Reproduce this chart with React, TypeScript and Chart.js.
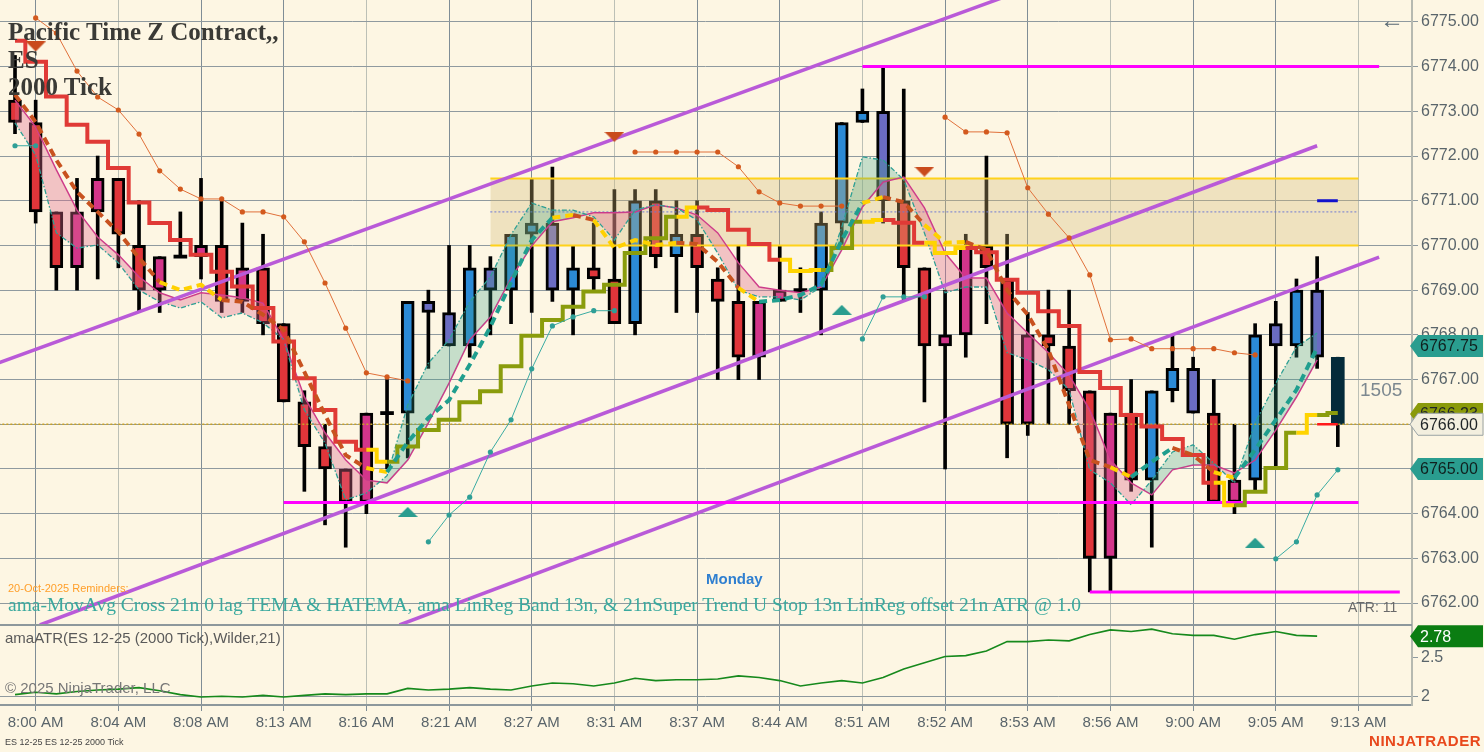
import { useEffect, useRef } from 'react';
import Chart from 'chart.js/auto';

// ---- axis / ticks ----
const timeLabels = ['8:00 AM', '8:04 AM', '8:08 AM', '8:13 AM', '8:16 AM', '8:21 AM', '8:27 AM', '8:31 AM', '8:37 AM', '8:44 AM', '8:51 AM', '8:52 AM', '8:53 AM', '8:56 AM', '9:00 AM', '9:05 AM', '9:13 AM'];
const timeTickBars = [1, 5, 9, 13, 17, 21, 25, 29, 33, 37, 41, 45, 49, 53, 57, 61, 65];
const priceTicks = [6762, 6763, 6764, 6765, 6766, 6767, 6768, 6769, 6770, 6771, 6772, 6773, 6774, 6775];
const atrTicks = [2, 2.5];

// ---- 2000 tick candles ----
const opens = [6773.25, 6772.75, 6770.75, 6770.75, 6771.5, 6771.5, 6770.0, 6769.75, 6769.75, 6770.0, 6770.0, 6769.5, 6769.5, 6768.25, 6766.5, 6765.5, 6765.0, 6766.25, 6766.25, 6766.25, 6768.5, 6767.75, 6767.75, 6769.0, 6769.0, 6770.25, 6769.0, 6769.0, 6769.5, 6769.25, 6768.25, 6771.0, 6769.75, 6770.25, 6769.25, 6768.75, 6768.75, 6769.0, 6769.0, 6769.0, 6770.5, 6772.75, 6771.0, 6771.0, 6769.5, 6768.0, 6770.0, 6770.0, 6769.25, 6768.0, 6768.0, 6767.75, 6766.75, 6766.25, 6766.25, 6764.75, 6766.75, 6766.25, 6766.25, 6764.75, 6764.75, 6767.75, 6767.75, 6767.5, 6767.5];
const highs = [6774.25, 6773.25, 6770.75, 6771.5, 6772.0, 6771.5, 6771.0, 6769.75, 6770.75, 6771.5, 6771.0, 6770.5, 6770.25, 6768.25, 6766.75, 6766.0, 6765.0, 6766.25, 6767.0, 6768.75, 6769.0, 6770.0, 6770.0, 6769.75, 6770.25, 6771.5, 6771.75, 6770.0, 6770.5, 6771.25, 6771.25, 6771.25, 6771.0, 6771.0, 6769.5, 6770.0, 6768.75, 6770.0, 6769.5, 6770.75, 6772.75, 6773.5, 6774.0, 6773.5, 6769.5, 6769.0, 6770.25, 6772.0, 6770.25, 6768.5, 6769.0, 6769.0, 6766.75, 6766.25, 6767.0, 6766.75, 6768.0, 6767.5, 6767.0, 6766.0, 6768.25, 6768.75, 6769.25, 6769.75, 6767.5];
const lows = [6772.5, 6770.5, 6769.0, 6769.0, 6769.25, 6769.5, 6768.5, 6768.5, 6769.75, 6769.25, 6768.5, 6768.5, 6768.0, 6766.5, 6764.5, 6763.75, 6763.25, 6764.0, 6765.0, 6765.25, 6767.25, 6767.75, 6767.5, 6768.0, 6768.25, 6768.5, 6768.75, 6768.0, 6769.0, 6768.25, 6768.0, 6769.5, 6768.5, 6768.5, 6767.0, 6767.0, 6767.0, 6768.75, 6768.5, 6768.0, 6770.0, 6772.75, 6770.5, 6768.75, 6766.5, 6765.0, 6767.5, 6768.25, 6765.25, 6765.75, 6766.0, 6766.0, 6762.25, 6762.25, 6764.5, 6763.25, 6766.5, 6766.25, 6764.25, 6764.0, 6764.5, 6765.0, 6767.5, 6767.25, 6765.5];
const closes = [6772.75, 6770.75, 6769.5, 6769.5, 6770.75, 6770.25, 6769.0, 6769.0, 6769.75, 6769.75, 6768.75, 6768.75, 6768.25, 6766.5, 6765.5, 6765.0, 6764.25, 6764.25, 6766.25, 6768.75, 6768.75, 6768.5, 6769.5, 6769.5, 6770.25, 6770.5, 6770.5, 6769.5, 6769.25, 6768.25, 6771.0, 6769.75, 6770.25, 6769.5, 6768.75, 6767.5, 6767.5, 6768.75, 6769.0, 6770.5, 6772.75, 6773.0, 6773.0, 6769.5, 6767.75, 6767.75, 6768.0, 6769.5, 6766.0, 6766.0, 6767.75, 6766.75, 6763.0, 6763.0, 6764.75, 6766.75, 6767.25, 6767.25, 6764.25, 6764.25, 6768.0, 6768.25, 6769.0, 6769.0, 6766.0];
const barPaint = ['dn', 'dn', 'dn', 'dn2', 'dn2', 'dn', 'dn', 'dn2', 'doji', 'dn2', 'dn', 'dn2', 'dn', 'dn', 'dn', 'dn', 'dn', 'dn2', 'doji', 'up', 'up2', 'up2', 'up', 'up2', 'up', 'up', 'up2', 'up', 'dn', 'dn', 'up', 'dn', 'up', 'dn', 'dn', 'dn', 'dn2', 'dn2', 'doji', 'up', 'up', 'up', 'up2', 'dn', 'dn', 'dn2', 'dn2', 'dn', 'dn', 'dn2', 'dn', 'dn', 'dn', 'dn2', 'dn', 'up', 'up', 'up2', 'dn', 'dn2', 'up', 'up2', 'up', 'up2', 'live'];

// ---- Super Trend U stop ----
const superTrend = [6774.58, 6774.11, 6773.33, 6772.70, 6772.32, 6771.73, 6770.96, 6770.50, 6770.12, 6769.79, 6769.41, 6769.08, 6768.60, 6767.85, 6767.03, 6766.32, 6765.61, 6765.43, 6765.16, 6765.50, 6765.87, 6766.10, 6766.49, 6766.74, 6767.30, 6767.98, 6768.33, 6768.63, 6768.97, 6769.12, 6769.83, 6770.16, 6770.64, 6770.85, 6770.79, 6770.35, 6770.03, 6769.68, 6769.43, 6769.45, 6769.94, 6770.53, 6770.57, 6770.51, 6770.06, 6769.83, 6769.94, 6769.85, 6769.23, 6768.94, 6768.53, 6768.20, 6767.17, 6766.81, 6766.21, 6765.95, 6765.67, 6765.31, 6764.69, 6764.19, 6764.49, 6765.02, 6765.81, 6766.21, 6766.25];
const superTrendState = ['dn', 'dn', 'dn', 'dn', 'dn', 'dn', 'dn', 'dn', 'dn', 'dn', 'dn', 'dn', 'dn', 'dn', 'dn', 'dn', 'dn', 'dn', 'flat', 'up', 'up', 'up', 'up', 'up', 'up', 'up', 'up', 'up', 'up', 'up', 'up', 'up', 'up', 'flat', 'dn', 'dn', 'dn', 'dn', 'flat', 'flat', 'up', 'up', 'flat', 'dn', 'dn', 'flat', 'flat', 'dn', 'dn', 'dn', 'dn', 'dn', 'dn', 'dn', 'dn', 'dn', 'dn', 'dn', 'dn', 'flat', 'up', 'up', 'up', 'flat', 'up'];

// ---- 0 lag TEMA (dashed) ----
const tema = [6773.37, 6772.76, 6771.91, 6771.20, 6770.75, 6770.30, 6769.72, 6769.18, 6769.00, 6769.12, 6768.78, 6768.74, 6768.45, 6768.11, 6767.17, 6766.21, 6765.31, 6765.02, 6764.93, 6765.60, 6766.14, 6766.54, 6767.33, 6768.18, 6769.18, 6770.12, 6770.62, 6770.68, 6770.57, 6769.94, 6770.12, 6770.01, 6770.06, 6770.03, 6769.63, 6769.05, 6768.74, 6768.78, 6768.89, 6769.12, 6770.12, 6770.95, 6771.08, 6770.97, 6770.46, 6770.06, 6770.08, 6769.90, 6769.00, 6768.45, 6767.66, 6766.43, 6765.20, 6765.04, 6764.82, 6765.16, 6765.47, 6765.31, 6764.93, 6764.80, 6765.43, 6766.10, 6766.77, 6767.71, null];
const temaTrend = ['d', 'd', 'd', 'd', 'd', 'd', 'd', 'f', 'f', 'f', 'd', 'd', 'd', 'd', 'd', 'd', 'd', 'f', 'u', 'u', 'u', 'u', 'u', 'u', 'u', 'u', 'f', 'd', 'f', 'f', 'f', 'f', 'd', 'd', 'd', 'f', 'u', 'u', 'u', 'u', 'u', 'f', 'd', 'd', 'f', 'f', 'd', 'd', 'd', 'd', 'd', 'd', 'd', 'f', 'u', 'u', 'd', 'd', 'f', 'u', 'u', 'u', 'u', 'f'];

// ---- HATEMA and LinReg band ----
const haTema = [6773.25, 6772.65, 6771.69, 6770.79, 6770.19, 6769.79, 6769.30, 6768.94, 6768.78, 6768.94, 6768.89, 6768.83, 6768.71, 6767.89, 6766.61, 6765.81, 6765.20, 6764.75, 6764.69, 6765.20, 6766.03, 6766.92, 6767.89, 6768.40, 6769.27, 6769.99, 6770.53, 6770.62, 6770.73, 6770.73, 6770.75, 6770.91, 6770.84, 6770.68, 6770.28, 6769.61, 6769.07, 6769.00, 6768.94, 6769.07, 6769.90, 6770.86, 6771.42, 6771.53, 6770.84, 6769.83, 6769.27, 6769.27, 6768.49, 6768.04, 6767.60, 6767.10, 6766.32, 6765.20, 6764.69, 6764.42, 6764.98, 6765.09, 6765.09, 6764.91, 6765.20, 6765.87, 6766.61, 6767.44, null];
const linRegBand = [6772.74, 6772.02, 6770.28, 6769.94, 6770.01, 6769.61, 6769.00, 6768.74, 6768.60, 6768.74, 6768.38, 6768.49, 6768.27, 6767.89, 6766.32, 6765.58, 6764.31, 6764.46, 6764.85, 6766.43, 6767.37, 6767.89, 6768.74, 6769.30, 6770.24, 6770.95, 6770.79, 6770.79, 6770.64, 6770.12, 6770.79, 6770.91, 6770.84, 6770.57, 6769.83, 6769.00, 6768.85, 6768.85, 6768.78, 6769.07, 6770.41, 6771.98, 6771.91, 6771.47, 6770.28, 6768.94, 6769.07, 6769.07, 6767.60, 6767.44, 6767.22, 6766.77, 6764.98, 6764.69, 6764.20, 6764.75, 6765.38, 6765.54, 6765.13, 6764.69, 6766.03, 6766.92, 6767.73, 6768.04, null];

// ---- LinReg offset lines (thin, dotted points) ----
const linRegUpper = [null, 6775.09, 6774.75, 6773.90, 6773.32, 6773.03, 6772.49, 6771.67, 6771.26, 6771.04, 6771.04, 6770.75, 6770.75, 6770.64, 6770.08, 6769.16, 6768.15, 6767.15, 6767.06, 6766.97,
  null, null, null, null, null, null, null, null, null, null,
  6772.09, 6772.09, 6772.09, 6772.09, 6772.09, 6771.76, 6771.20, 6770.95, 6770.88, 6770.88, 6770.88,
  null, null, null, null,
  6772.87, 6772.54, 6772.54, 6772.52, 6771.29, 6770.70, 6770.17, 6769.34, 6767.89, 6767.91, 6767.69, 6767.69, 6767.69, 6767.69, 6767.60, 6767.55,
  null, null, null, null];
const linRegLower = [6772.23, 6772.23,
  null, null, null, null, null, null, null, null, null, null, null, null, null, null, null, null, null, null,
  6763.37, 6763.97, 6764.37, 6765.38, 6766.10, 6767.24, 6768.20, 6768.40, 6768.54, 6768.54,
  null, null, null, null, null, null, null, null, null, null, null,
  6767.91, 6768.85, 6768.85, 6768.85,
  null, null, null, null, null, null, null, null, null, null, null, null, null, null, null, null,
  6762.99, 6763.37, 6764.42, 6764.98];

// ---- signals ----
const sellBars = [1, 29, 44];
const sellPrices = [6774.45, 6772.43, 6771.65];
const buyBars = [19, 40, 60];
const buyPrices = [6764.04, 6768.56, 6763.35];

// ---- drawn lines / levels ----
const channelUpperBars = [-1, 48];
const channelUpperPrices = [6767.34, 6775.58];
const channelMidBars = [1.2, 63];
const channelMidPrices = [6761.51, 6772.23];
const channelLowBars = [18.6, 66];
const channelLowPrices = [6761.51, 6769.74];
const resistanceBars = [41, 66];
const resistance = 6774.0;
const supportBars = [13, 65];
const support = 6764.25;
const sessionLowBars = [52, 67];
const sessionLow = 6762.25;
const zoneBars = [23, 65];
const zoneTop = 6771.5;
const zoneBottom = 6770.0;
const zoneMid = 6770.75;
const lastPriceBars = [-1, 68];
const lastPrice = 6766.0;
const markBars = [63, 64];
const blueMark = 6771.0;
const redMark = 6766.0;

// ---- right axis markers ----
const markerValues = [6766.23, 6767.75, 6765.0, 6766.0];
const atrMarker = 2.78;

// ---- amaATR(21, Wilder) ----
const atr = [2.03, 2.06, 2.04, 2.07, 2.09, 2.10, 2.12, 2.08, 2.03, 2.00, 2.01, 2.00, 2.02, 2.00, 2.02, 2.04, 2.03, 2.04, 2.04, 2.11, 2.09, 2.10, 2.12, 2.10, 2.09, 2.14, 2.18, 2.17, 2.14, 2.18, 2.24, 2.21, 2.22, 2.22, 2.23, 2.27, 2.25, 2.21, 2.14, 2.18, 2.21, 2.18, 2.25, 2.36, 2.44, 2.52, 2.53, 2.59, 2.71, 2.71, 2.73, 2.72, 2.80, 2.86, 2.84, 2.87, 2.81, 2.79, 2.79, 2.74, 2.80, 2.84, 2.79, 2.78];

const BG = '#fdf6e3';
const SANS = '"Liberation Sans", Arial, sans-serif';
const SERIF = '"Liberation Serif", "DejaVu Serif", serif';
const AXIS_TEXT = '#5a656b';

const PAINT: Record<string, string> = {
  dn: '#e0353a',
  dn2: '#d3358a',
  up: '#2b8ad6',
  up2: '#6a6cc2',
  doji: '#000000',
  live: '#042b3a',
};
const ST_COLOR: Record<string, string> = { dn: '#e03a36', up: '#8a9c0c', flat: '#ffd400' };
const TEMA_COLOR: Record<string, string> = { d: '#c8521f', u: '#1f9e8e', f: '#ffd000' };

const pts = (arr: (number | null)[]) => arr.map((v, i) => ({ x: i, y: v }));
const seg = (bars: number[], prices: number[]) => bars.map((b, i) => ({ x: b, y: prices[i] }));
const flat = (bars: number[], v: number) => bars.map((b) => ({ x: b, y: v }));

function triangle(color: string, down: boolean) {
  const c = document.createElement('canvas');
  c.width = 20;
  c.height = 10;
  const g = c.getContext('2d')!;
  g.fillStyle = color;
  g.beginPath();
  if (down) {
    g.moveTo(0, 0);
    g.lineTo(20, 0);
    g.lineTo(10, 10);
  } else {
    g.moveTo(10, 0);
    g.lineTo(20, 10);
    g.lineTo(0, 10);
  }
  g.closePath();
  g.fill();
  return c;
}

function drawBadge(ctx: CanvasRenderingContext2D, x0: number, x1: number, y: number, text: string, fill: string, color: string, stroke?: string) {
  ctx.beginPath();
  ctx.moveTo(x0, y);
  ctx.lineTo(x0 + 8, y - 11);
  ctx.lineTo(x1, y - 11);
  ctx.lineTo(x1, y + 11);
  ctx.lineTo(x0 + 8, y + 11);
  ctx.closePath();
  ctx.fillStyle = fill;
  ctx.fill();
  if (stroke) {
    ctx.strokeStyle = stroke;
    ctx.lineWidth = 1;
    ctx.stroke();
  }
  ctx.fillStyle = color;
  ctx.textBaseline = 'middle';
  ctx.textAlign = 'left';
  ctx.fillText(text, x0 + 10, y + 1);
}

const panesPlugin = {
  id: 'panes',
  afterDraw(chart: any) {
    const { ctx, chartArea } = chart;
    const y = chart.scales.y;
    const y2 = chart.scales.y2;
    ctx.save();
    ctx.strokeStyle = '#8d989c';
    ctx.lineWidth = 2;
    ctx.beginPath();
    ctx.moveTo(chartArea.left, y.bottom);
    ctx.lineTo(chartArea.right, y.bottom);
    ctx.stroke();

    ctx.font = `16px ${SANS}`;
    const x0 = chartArea.right - 2;
    const x1 = chart.width - 1;
    const styles = [
      { fill: '#8a9a0a', color: '#1d2326' },
      { fill: '#2a9d8f', color: '#10201e' },
      { fill: '#2a9d8f', color: '#10201e' },
      { fill: '#f3efdf', color: '#1d2326', stroke: '#9aa3a6' },
    ];
    markerValues.forEach((v, i) => {
      const s = styles[i];
      drawBadge(ctx, x0, x1, y.getPixelForValue(v), v.toFixed(2), s.fill, s.color, s.stroke);
    });
    drawBadge(ctx, x0, x1, y2.getPixelForValue(atrMarker), atrMarker.toFixed(2), '#0b7d12', '#ffffff');
    ctx.restore();
  },
};

const noPad = (s: any) => {
  s.paddingTop = 0;
  s.paddingBottom = 0;
  s.paddingLeft = 0;
  s.paddingRight = 0;
};

export default function App() {
  const canvasRef = useRef<HTMLCanvasElement | null>(null);

  useEffect(() => {
    document.body.style.margin = '0';
    const canvas = canvasRef.current;
    if (!canvas) return;

    const downTri = triangle('#c94b1c', true);
    const upTri = triangle('#2a9d8f', false);

    const bodies = opens.map((o, i) => {
      const c = closes[i];
      if (barPaint[i] === 'doji') return { x: i, y: [o - 0.035, o + 0.035] };
      return { x: i, y: [o, c] };
    });
    const wicks = lows.map((l, i) => ({ x: i, y: [l, highs[i]] }));

    const datasets: any[] = [];
    const add = (d: any) => {
      datasets.push({ yAxisID: 'y', pointRadius: 0, tension: 0, ...d });
      return datasets.length - 1;
    };

    add({ type: 'bar', data: wicks, backgroundColor: '#000', barThickness: 3, grouped: false, order: 12 });
    add({
      type: 'bar',
      data: bodies,
      backgroundColor: barPaint.map((p) => PAINT[p]),
      borderColor: barPaint.map((p) => (p === 'live' ? PAINT.live : '#000')),
      borderWidth: barPaint.map((p) => (p === 'live' || p === 'doji' ? 0 : 3)),
      borderSkipped: false,
      barThickness: 13,
      grouped: false,
      order: 11,
    });

    add({ type: 'line', data: flat(zoneBars, zoneTop), borderColor: '#ffd21a', borderWidth: 2, fill: false, order: 9 });
    add({ type: 'line', data: flat(zoneBars, zoneBottom), borderColor: '#ffd21a', borderWidth: 2, fill: '-1', backgroundColor: 'rgba(214,186,118,0.33)', order: 9 });
    add({ type: 'line', data: flat(zoneBars, zoneMid), borderColor: '#3b5bff', borderWidth: 1, borderDash: [2, 2], order: 9 });
    add({ type: 'line', data: flat(lastPriceBars, lastPrice), borderColor: '#c9a227', borderWidth: 1.5, borderDash: [2, 2], order: 9 });

    const haIdx = add({ type: 'line', data: pts(haTema), borderColor: '#d2358b', borderWidth: 1.5, order: 8 });
    add({
      type: 'line',
      data: pts(linRegBand),
      borderColor: '#2e9f94',
      borderWidth: 1.3,
      borderDash: [5, 2, 1.5, 2],
      fill: { target: haIdx, above: 'rgba(58,160,136,0.28)', below: 'rgba(222,104,140,0.36)' },
      order: 7,
    });

    add({ type: 'line', data: seg(channelUpperBars, channelUpperPrices), borderColor: '#b95ad8', borderWidth: 3.5, order: 6 });
    add({ type: 'line', data: seg(channelMidBars, channelMidPrices), borderColor: '#b95ad8', borderWidth: 3.5, order: 6 });
    add({ type: 'line', data: seg(channelLowBars, channelLowPrices), borderColor: '#b95ad8', borderWidth: 3.5, order: 6 });

    add({ type: 'line', data: flat(resistanceBars, resistance), borderColor: '#ff00ff', borderWidth: 3, order: 5 });
    add({ type: 'line', data: flat(supportBars, support), borderColor: '#ff00ff', borderWidth: 3, order: 5 });
    add({ type: 'line', data: flat(sessionLowBars, sessionLow), borderColor: '#ff00ff', borderWidth: 3, order: 5 });

    add({
      type: 'line',
      data: pts(superTrend),
      stepped: 'middle',
      borderWidth: 4,
      borderColor: ST_COLOR.dn,
      segment: { borderColor: (c: any) => ST_COLOR[superTrendState[c.p1DataIndex]] },
      order: 4,
    });
    add({ type: 'line', data: flat(markBars, blueMark), borderColor: '#1212cc', borderWidth: 3, order: 4 });
    add({ type: 'line', data: flat(markBars, redMark), borderColor: '#ff1a1a', borderWidth: 2.5, order: 4 });

    add({
      type: 'line',
      data: pts(tema),
      borderWidth: 4,
      borderDash: [8, 5],
      borderColor: TEMA_COLOR.d,
      segment: { borderColor: (c: any) => TEMA_COLOR[temaTrend[c.p0DataIndex]] },
      order: 3,
    });

    add({ type: 'line', data: pts(linRegUpper), borderColor: '#e0703a', borderWidth: 1, pointRadius: 2.6, pointBackgroundColor: '#d35a1e', pointBorderWidth: 0, order: 2 });
    add({ type: 'line', data: pts(linRegLower), borderColor: '#3aaba2', borderWidth: 1, pointRadius: 2.6, pointBackgroundColor: '#2f9f96', pointBorderWidth: 0, order: 2 });

    add({ type: 'line', data: seg(sellBars, sellPrices), showLine: false, pointStyle: downTri, pointRadius: 10, order: 1 });
    add({ type: 'line', data: seg(buyBars, buyPrices), showLine: false, pointStyle: upTri, pointRadius: 10, order: 1 });

    datasets.push({ type: 'line', yAxisID: 'y2', data: pts(atr), borderColor: '#16891c', borderWidth: 1.6, pointRadius: 0, tension: 0, order: 1 });

    const chart = new Chart(canvas, {
      type: 'bar',
      data: { datasets },
      plugins: [panesPlugin],
      options: {
        responsive: false,
        animation: false,
        events: [],
        layout: { padding: 0, autoPadding: false },
        font: { family: SANS },
        plugins: { legend: { display: false }, tooltip: { enabled: false } },
        scales: {
          x: {
            type: 'linear',
            min: -0.726,
            max: 67.59,
            offset: false,
            afterBuildTicks: (s: any) => {
              s.ticks = timeTickBars.map((v) => ({ value: v }));
            },
            afterFit: (s: any) => {
              s.height = 47;
              noPad(s);
            },
            ticks: {
              autoSkip: false,
              maxRotation: 0,
              padding: 3,
              color: AXIS_TEXT,
              font: { family: SANS, size: 15 },
              callback: (_v: any, i: number) => timeLabels[i],
            },
            grid: {
              offset: false,
              color: (c: any) => (c.index % 3 === 1 ? '#bcc0b6' : '#7f8d96'),
              lineWidth: 1,
              tickLength: 6,
              tickColor: '#7f8d96',
            },
            border: { color: '#8d989c', width: 2 },
          },
          y: {
            type: 'linear',
            position: 'right',
            stack: 'panes',
            stackWeight: 625,
            min: 6761.51,
            max: 6775.49,
            afterBuildTicks: (s: any) => {
              s.ticks = priceTicks.map((v) => ({ value: v }));
            },
            afterFit: (s: any) => {
              s.width = 72;
              noPad(s);
            },
            ticks: {
              padding: 3,
              color: AXIS_TEXT,
              font: { family: SANS, size: 16 },
              callback: (v: any) => Number(v).toFixed(2),
            },
            grid: { color: '#8f9a9f', lineWidth: 1, tickLength: 6, tickColor: '#8f9a9f' },
            border: { color: '#b6b9b0', width: 2 },
          },
          y2: {
            type: 'linear',
            position: 'right',
            stack: 'panes',
            stackWeight: 80,
            min: 1.897,
            max: 2.923,
            afterBuildTicks: (s: any) => {
              s.ticks = atrTicks.map((v) => ({ value: v }));
            },
            afterFit: (s: any) => {
              s.width = 72;
              noPad(s);
            },
            ticks: {
              padding: 3,
              color: AXIS_TEXT,
              font: { family: SANS, size: 16 },
              callback: (v: any) => String(v),
            },
            grid: {
              color: (c: any) => (c.tick && c.tick.value === 2 ? '#8f9a9f' : 'rgba(0,0,0,0)'),
              lineWidth: 1,
              tickLength: 6,
              tickColor: '#8f9a9f',
            },
            border: { color: '#b6b9b0', width: 2 },
          },
        },
      } as any,
    });

    return () => chart.destroy();
  }, []);

  const abs = (extra: React.CSSProperties): React.CSSProperties => ({
    position: 'absolute',
    whiteSpace: 'nowrap',
    pointerEvents: 'none',
    ...extra,
  });

  return (
    <div style={{ position: 'relative', width: 1484, height: 752, background: BG, overflow: 'hidden', fontFamily: SANS }}>
      <canvas ref={canvasRef} width={1484} height={752} style={{ position: 'absolute', left: 0, top: 0 }} />
      <div style={abs({ left: 8, top: 18, fontFamily: SERIF, fontSize: 25, fontWeight: 700, lineHeight: '27.5px', color: '#3a3a36' })}>
        <div>Pacific Time Z Contract,,</div>
        <div>ES</div>
        <div>2000 Tick</div>
      </div>
      <div style={abs({ left: 1380, top: 6, fontSize: 24, color: '#5a6a74' })}>←</div>
      <div style={abs({ left: 1360, top: 379, fontSize: 19, color: '#7c8890' })}>1505</div>
      <div style={abs({ left: 8, top: 582, fontSize: 11, color: '#ff9f2a' })}>20-Oct-2025 Reminders:</div>
      <div style={abs({ left: 8, top: 594, fontFamily: SERIF, fontSize: 19.5, color: '#3aa99e' })}>
        ama-MovAvg Cross 21n 0 lag TEMA &amp; HATEMA, ama LinReg Band 13n, &amp; 21nSuper Trend U Stop 13n LinReg offset 21n ATR @ 1.0
      </div>
      <div style={abs({ left: 706, top: 570, fontSize: 15, fontWeight: 700, color: '#2f7fd0' })}>Monday</div>
      <div style={abs({ left: 1348, top: 599, fontSize: 14, color: '#6a6a6a' })}>ATR: 11</div>
      <div style={abs({ left: 5, top: 629, fontSize: 15, color: '#5a5a5a' })}>amaATR(ES 12-25 (2000 Tick),Wilder,21)</div>
      <div style={abs({ left: 5, top: 679, fontSize: 15, color: '#777777' })}>© 2025 NinjaTrader, LLC</div>
      <div style={abs({ left: 5, top: 737, fontSize: 9, color: '#444444' })}>ES 12-25 ES 12-25 2000 Tick</div>
      <div style={abs({ right: 3, top: 732, fontSize: 15, fontWeight: 700, color: '#e8481c', letterSpacing: 0.5 })}>NINJATRADER</div>
    </div>
  );
}
